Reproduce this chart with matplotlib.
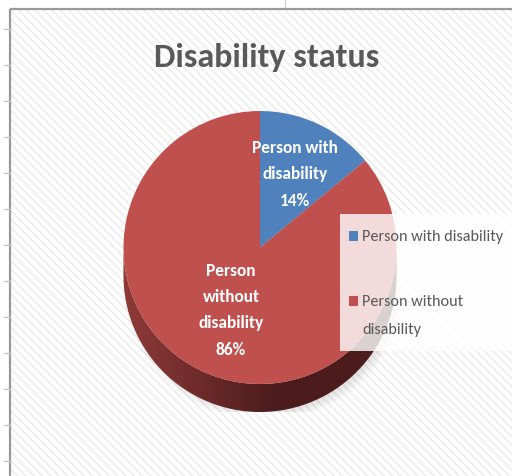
import numpy as np
import matplotlib
matplotlib.use("Agg")
import matplotlib.pyplot as plt
from matplotlib.patches import Rectangle, Polygon, Ellipse

# share of respondents by disability status
categories = ["Person with disability", "Person without\ndisability"]
inside_labels = ["Person with\ndisability", "Person\nwithout\ndisability"]
shares = [14, 86]
colors = ["#4f81bd", "#c0504d"]

font = ["Carlito", "DejaVu Sans"]
W, H = 512, 477

fig = plt.figure(figsize=(W / 100, H / 100), dpi=100)

# chart area: frame, striped fill and the stray ticks of the sheet behind
bg = fig.add_axes([0, 0, 1, 1])
bg.set_xlim(0, W)
bg.set_ylim(H, 0)
bg.axis("off")
plt.rcParams["hatch.linewidth"] = 1.2
bg.add_patch(Rectangle((10, 10), W, H, facecolor="white", edgecolor="#ededed",
                       hatch="\\\\\\\\", linewidth=0))
bg.add_patch(Rectangle((10, 10), W, H, facecolor="none", edgecolor="#9a9a9a",
                       linewidth=1.6))
for y in np.arange(30, H, 36):
    bg.plot([4, 10], [y, y], color="#c8c8c8", linewidth=1)
bg.plot([285, 285], [0, 8], color="#d0d0d0", linewidth=1)

bg.text(267, 57, "Disability status", ha="center", va="center",
        fontsize=24.5, fontweight="bold", color="#595959", family=font)

# pie axes: top face is the unit ellipse, the rim hangs below it
depth = 0.205
ax = fig.add_axes([120 / W, (H - 413) / H, 280 / W, 301 / H])
ax.axis("off")

# soft shadow under the rim
for k in range(5):
    ax.add_patch(Ellipse((0.03, -depth - 0.03), 1.96 + 0.03 * k, 1.96 + 0.03 * k,
                         facecolor="#000000", alpha=0.02, linewidth=0, zorder=0))

t = np.linspace(np.pi, 2 * np.pi, 200)
rim = np.concatenate([np.c_[np.cos(t), np.sin(t) - depth],
                      np.c_[np.cos(t[::-1]), np.sin(t[::-1])]])
rim_patch = Polygon(rim, closed=True, facecolor="none", edgecolor="none", zorder=1)
ax.add_patch(rim_patch)
grad = np.clip((np.linspace(-1, 1, 256) + 1) / 1.1, 0, 1)
c0 = np.array([0.56, 0.23, 0.22])
c1 = np.array([0.30, 0.11, 0.11])
img = c0[None, None, :] * (1 - grad[None, :, None]) + c1[None, None, :] * grad[None, :, None]
im = ax.imshow(img, extent=(-1, 1, -1 - depth, 0), aspect="auto", zorder=1)
im.set_clip_path(rim_patch)

wedges, _ = ax.pie(shares, colors=colors, startangle=90, counterclock=False,
                   radius=1, center=(0, 0), frame=True,
                   wedgeprops=dict(linewidth=0, zorder=2))
ax.set_xlim(-1, 1)
ax.set_ylim(-1 - depth, 1)
ax.axis("off")

label_r = [0.6, 0.5]
for w, lab, pct, r in zip(wedges, inside_labels, shares, label_r):
    mid = np.deg2rad((w.theta1 + w.theta2) / 2)
    ax.text(r * np.cos(mid), r * np.sin(mid), f"{lab}\n{pct}%", ha="center",
            va="center", color="white", fontsize=12.5, fontweight="bold",
            family=font, linespacing=1.8, zorder=3)

# legend box on the right, laid over the pie
lg = fig.add_axes([0, 0, 1, 1])
lg.set_xlim(0, W)
lg.set_ylim(H, 0)
lg.axis("off")
lg.add_patch(Rectangle((340, 215), 200, 137, facecolor="white", alpha=0.8,
                       linewidth=0))
for i, (cat, col) in enumerate(zip(categories, colors)):
    y0 = 237 + 65 * i
    lg.add_patch(Rectangle((349, y0 - 5), 9, 10, facecolor=col, linewidth=0))
    lg.text(362, y0 - 7, cat, ha="left", va="top", fontsize=11.7, color="#595959",
            family=font, linespacing=2.25)

fig.savefig("out.png", dpi=100)
